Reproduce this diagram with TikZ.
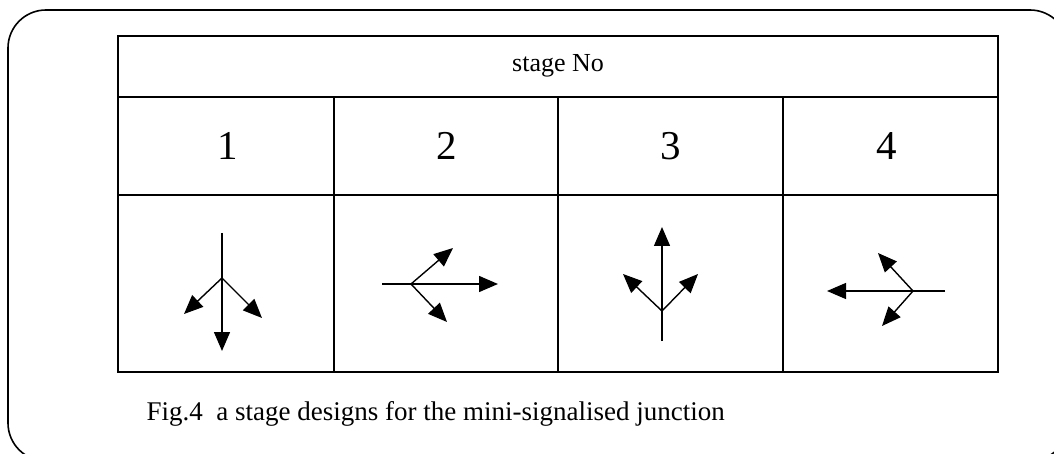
\documentclass[tikz,border=0pt]{standalone}
\usepackage{fontspec}
\setmainfont{Liberation Serif}
\usepackage{tikz}
\usetikzlibrary{arrows.meta}
\tikzstyle{frame}=[line width=1.6pt,rounded corners=38pt]
\tikzstyle{grid}=[line width=1.3pt]
\tikzstyle{flow}=[line width=1.4pt,-{Triangle[length=19pt,width=16pt]}]
\tikzstyle{stem}=[line width=1.4pt]
\tikzstyle{head}=[font=\fontsize{26}{30}\selectfont]
\tikzstyle{num}=[font=\fontsize{41}{44}\selectfont]
\tikzstyle{caption}=[font=\fontsize{27}{32}\selectfont,anchor=west]

\begin{document}
\begin{tikzpicture}[x=1pt,y=-1pt]
	\useasboundingbox (0,0) rectangle (1054,454);
	\draw[frame] (8,10) rectangle (1068,461);
	% table
	\draw[grid] (118,36) rectangle (998,372);
	\draw[grid] (118,97) -- (998,97);
	\draw[grid] (118,195) -- (998,195);
	\foreach \x in {334,558,783}
		\draw[grid] (\x,97) -- (\x,372);
	\node[head] (stage) at (558,66) {stage No};
	\node[num] (n1) at (228,146) {1};
	\node[num] (n2) at (447,146) {2};
	\node[num] (n3) at (671,146) {3};
	\node[num] (n4) at (887,146) {4};
	% stage 1
	\coordinate (a1) at (222,278);
	\coordinate (a1s) at (222,233);
	\draw[stem] (a1s) -- (a1);
	\coordinate (a1l) at (184,314);
	\coordinate (a1r) at (262,318);
	\coordinate (a1d) at (222,351);
	\draw[flow] (a1) -- (a1l);
	\draw[flow] (a1) -- (a1r);
	\draw[flow] (a1) -- (a1d);
	% stage 2
	\coordinate (a2) at (411,284);
	\coordinate (a2s) at (382,284);
	\draw[stem] (a2s) -- (a2);
	\coordinate (a2u) at (453,248);
	\coordinate (a2d) at (447,322);
	\coordinate (a2r) at (498,284);
	\draw[flow] (a2) -- (a2u);
	\draw[flow] (a2) -- (a2d);
	\draw[flow] (a2) -- (a2r);
	% stage 3
	\coordinate (a3) at (662,311);
	\coordinate (a3s) at (662,341);
	\draw[stem] (a3s) -- (a3);
	\coordinate (a3l) at (623,274);
	\coordinate (a3r) at (698,274);
	\coordinate (a3u) at (662,227);
	\draw[flow] (a3) -- (a3l);
	\draw[flow] (a3) -- (a3r);
	\draw[flow] (a3) -- (a3u);
	% stage 4
	\coordinate (a4) at (913,291);
	\coordinate (a4s) at (945,291);
	\draw[stem] (a4s) -- (a4);
	\coordinate (a4u) at (878,253);
	\coordinate (a4d) at (882,326);
	\coordinate (a4l) at (827,291);
	\draw[flow] (a4) -- (a4u);
	\draw[flow] (a4) -- (a4d);
	\draw[flow] (a4) -- (a4l);
	\node[caption] (cap) at (143,414) {Fig.4\ \ a stage designs for the mini-signalised junction};
\end{tikzpicture}
\end{document}
